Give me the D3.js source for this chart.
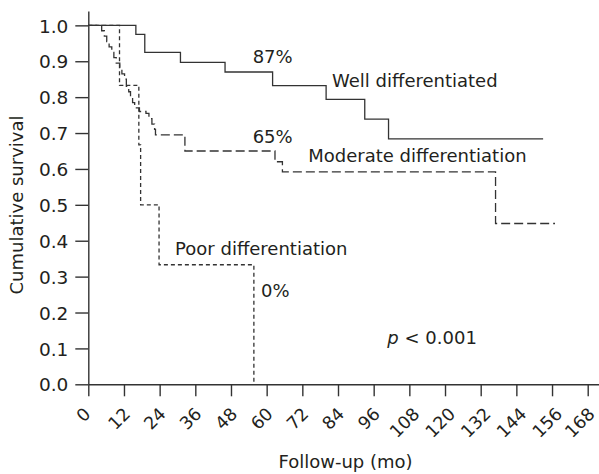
<!DOCTYPE html>
<html>
<head>
<meta charset="utf-8">
<script src="https://cdn.jsdelivr.net/npm/d3@7"></script>
<style>
  body { margin: 0; background: #fff; }
  svg text { font-family: "DejaVu Sans", sans-serif; fill: #231f20; }
</style>
</head>
<body>
<div id="graph-container"></div>
<script>
// survival data (months, cumulative survival)
var wellTimes = [0, 16, 19, 31, 46, 62, 80, 93, 101, 153];
var wellSurv  = [1.0, 0.975, 0.925, 0.897, 0.870, 0.832, 0.794, 0.739, 0.684, 0.684];

var moderateTimes = [0, 4.5, 5.4, 6.2, 7.0, 7.9, 8.6, 9.4, 10.6, 11.3, 12.2, 12.8, 13.6, 14.2, 14.9, 15.6, 17.2, 19.4, 20.4, 21.4, 22.3, 22.6, 32.5, 62.8, 65.3, 137, 157];
var moderateSurv  = [1.0, 0.985, 0.97, 0.955, 0.94, 0.925, 0.91, 0.895, 0.88, 0.865, 0.85, 0.83, 0.815, 0.80, 0.785, 0.77, 0.76, 0.755, 0.74, 0.725, 0.71, 0.695, 0.65, 0.62, 0.592, 0.448, 0.448];

var poorTimes = [0, 10.5, 17.0, 17.6, 23.8, 55.7];
var poorSurv  = [1.0, 0.833, 0.667, 0.5, 0.333, 0.0];

var xTicks = [0, 12, 24, 36, 48, 60, 72, 84, 96, 108, 120, 132, 144, 156, 168];
var yTicks = [0, 0.1, 0.2, 0.3, 0.4, 0.5, 0.6, 0.7, 0.8, 0.9, 1.0];

var labels = [
  {text: "87%", t: 55.3, s: 0.894},
  {text: "Well differentiated", t: 82, s: 0.828},
  {text: "65%", t: 55.3, s: 0.673},
  {text: "Moderate differentiation", t: 74, s: 0.618},
  {text: "Poor differentiation", t: 29.2, s: 0.360},
  {text: "0%", t: 58.1, s: 0.244}
];

var width = 599, height = 474;
var ink = "#333";

var svg = d3.select("#graph-container").append("svg")
  .attr("width", width)
  .attr("height", height);

// scales: axis lines run a little past the last tick
var x = d3.scaleLinear().domain([0, 171.8]).range([88.3, 599]);
var y = d3.scaleLinear().domain([0, 1.04]).range([384.3, 11]);

// Y axis
var yAxis = svg.append("g")
  .attr("transform", "translate(" + x(0) + ",0)")
  .call(d3.axisLeft(y).tickValues(yTicks).tickFormat(d3.format(".1f"))
    .tickSize(13).tickSizeOuter(0).tickPadding(7));
yAxis.selectAll("text").style("font-size", "18.5px").attr("dy", "0.36em");

// X axis, labels turned 45 degrees and hung below each tick
var xAxis = svg.append("g")
  .attr("transform", "translate(0," + y(0) + ")")
  .call(d3.axisBottom(x).tickValues(xTicks).tickSize(12).tickSizeOuter(0));
xAxis.selectAll("text")
  .style("font-size", "17.5px")
  .attr("y", 0)
  .attr("dy", "0.36em")
  .attr("text-anchor", "middle")
  .attr("transform", function(d) {
    var w = this.getComputedTextLength();
    var half = (w + 20) * 0.354;
    // keep the last label inside the page
    var dx = Math.min(-5.5, width - 1 - x(d) - half);
    return "translate(" + dx + "," + (21.7 + (w + 13) * 0.354) + ") rotate(-45)";
  });

svg.selectAll(".domain, .tick line").attr("stroke", ink).attr("stroke-width", 1.4);

// step curves
var step = d3.line()
  .x(function(d) { return x(d[0]); })
  .y(function(d) { return y(d[1]); })
  .curve(d3.curveStepAfter);

var series = [
  {times: wellTimes, surv: wellSurv, dash: null},
  {times: moderateTimes, surv: moderateSurv, dash: "9,4"},
  {times: poorTimes, surv: poorSurv, dash: "4,3"}
];

series.forEach(function(s) {
  svg.append("path")
    .datum(d3.zip(s.times, s.surv))
    .attr("fill", "none")
    .attr("stroke", ink)
    .attr("stroke-width", 1.3)
    .attr("stroke-dasharray", s.dash)
    .attr("d", step);
});

// curve labels
svg.selectAll(".lbl")
  .data(labels)
  .enter().append("text")
  .attr("class", "lbl")
  .attr("x", function(d) { return x(d.t); })
  .attr("y", function(d) { return y(d.s); })
  .style("font-size", "18px")
  .text(function(d) { return d.text; });

var pText = svg.append("text")
  .attr("x", x(100.6))
  .attr("y", y(0.112))
  .style("font-size", "18px");
pText.append("tspan").style("font-style", "italic").text("p");
pText.append("tspan").text(" < 0.001");

// axis titles
svg.append("text")
  .attr("x", 345.5)
  .attr("y", 468)
  .attr("text-anchor", "middle")
  .style("font-size", "18px")
  .text("Follow-up (mo)");

svg.append("text")
  .attr("transform", "translate(22.5,205) rotate(-90)")
  .attr("text-anchor", "middle")
  .style("font-size", "18px")
  .text("Cumulative survival");
</script>
</body>
</html>
